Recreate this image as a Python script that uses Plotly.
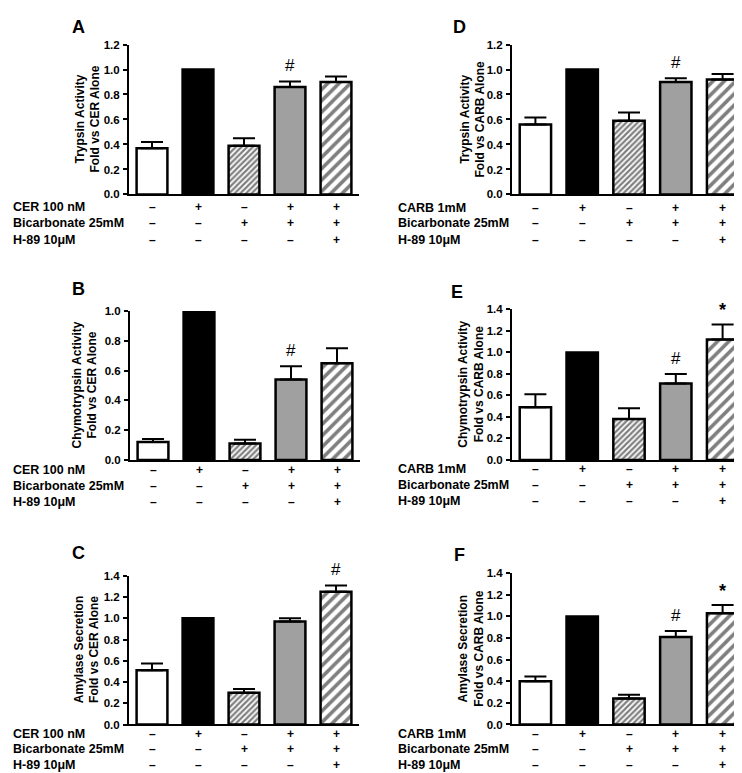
import plotly.graph_objects as go

W, H = 742, 773

# ---------------- data ----------------
panel_letters = ["A", "B", "C", "D", "E", "F"]
ytitles = [
    "Trypsin Activity<br>Fold vs CER Alone",
    "Chymotrypsin Activity<br>Fold vs CER Alone",
    "Amylase Secretion<br>Fold vs CER Alone",
    "Trypsin Activity<br>Fold vs CARB Alone",
    "Chymotrypsin Activity<br>Fold vs CARB Alone",
    "Amylase Secretion<br>Fold vs CARB Alone",
]
means_A = [0.37, 1.00, 0.39, 0.86, 0.90]
errs_A = [0.05, 0.0, 0.06, 0.045, 0.045]
means_B = [0.12, 1.00, 0.11, 0.54, 0.65]
errs_B = [0.02, 0.0, 0.025, 0.09, 0.10]
means_C = [0.51, 1.00, 0.30, 0.97, 1.25]
errs_C = [0.065, 0.0, 0.035, 0.03, 0.06]
means_D = [0.56, 1.00, 0.59, 0.90, 0.92]
errs_D = [0.055, 0.0, 0.065, 0.03, 0.045]
means_E = [0.49, 1.00, 0.38, 0.71, 1.12]
errs_E = [0.12, 0.0, 0.10, 0.09, 0.14]
means_F = [0.40, 1.00, 0.24, 0.81, 1.03]
errs_F = [0.045, 0.0, 0.035, 0.055, 0.075]
yranges = [1.2, 1.0, 1.4, 1.2, 1.4, 1.4]
ytick_step = [0.2, 0.2, 0.2, 0.2, 0.2, 0.2]
# significance marks per bar
marks_A = ["", "", "", "#", ""]
marks_B = ["", "", "", "#", ""]
marks_C = ["", "", "", "", "#"]
marks_D = ["", "", "", "#", ""]
marks_E = ["", "", "", "#", "*"]
marks_F = ["", "", "", "#", "*"]

row_labels_left = ["CER 100 nM", "Bicarbonate 25mM", "H-89 10\u03bcM"]
row_labels_right = ["CARB 1mM", "Bicarbonate 25mM", "H-89 10\u03bcM"]
agonist_row = ["\u2013", "+", "\u2013", "+", "+"]
bicarb_row = ["\u2013", "\u2013", "+", "+", "+"]
h89_row = ["\u2013", "\u2013", "\u2013", "\u2013", "+"]

means = [means_A, means_B, means_C, means_D, means_E, means_F]
errs = [errs_A, errs_B, errs_C, errs_D, errs_E, errs_F]
marks = [marks_A, marks_B, marks_C, marks_D, marks_E, marks_F]

# ---------------- layout geometry (pixels) ----------------
# (x_left, x_right, y_top, y_bottom)
boxes = [
    (121, 351, 31, 183.3),
    (122, 352, 301.7, 453),
    (121, 351, 570.7, 721.7),
    (504, 738, 31, 183.3),
    (504, 738, 300, 453),
    (504, 738, 568, 721.7),
]
letter_pos = [(70, 13), (70, 279), (70, 548), (451, 13), (449, 282), (451, 550)]
title_x = [80, 77, 79, 465, 463, 463]
rows_y = [
    (196, 212.3, 229.3),
    (463, 479, 496),
    (731, 747, 763),
    (196.7, 212.3, 229.3),
    (462, 478, 495),
    (731, 747, 763),
]
label_x = [3, 3, 3, 388, 388, 388]

FONT = "Liberation Sans, Arial, sans-serif"

def px(x):
    return x / W

def py(y):
    return 1 - y / H

fig = go.Figure()
annotations = []

bar_colors = ["white", "black", "white", "#a0a0a0", "white"]
patterns = [
    dict(shape=""),
    dict(shape=""),
    dict(shape="/", size=4, solidity=0.55, fgcolor="black", bgcolor="white"),
    dict(shape=""),
    dict(shape="/", size=8, solidity=0.45, fgcolor="black", bgcolor="white"),
]

for i in range(6):
    xa = "x" if i == 0 else f"x{i+1}"
    ya = "y" if i == 0 else f"y{i+1}"
    xl, xr, yt, yb = boxes[i]
    for j in range(5):
        fig.add_trace(go.Bar(
            x=[j], y=[means[i][j]], xaxis=xa, yaxis=ya, width=0.67,
            marker=dict(color=bar_colors[j], line=dict(color="black", width=2.5),
                        pattern=patterns[j]),
            error_y=dict(type="data", symmetric=False, array=[errs[i][j]],
                         arrayminus=[0], color="black", thickness=2, width=11,
                         visible=errs[i][j] > 0),
            showlegend=False, hoverinfo="skip",
        ))
        if marks[i][j]:
            annotations.append(dict(
                x=j, y=means[i][j] + errs[i][j], xref=xa, yref=ya,
                text=marks[i][j], showarrow=False, xanchor="center",
                yanchor="bottom", yshift=4 if marks[i][j] == "#" else 2,
                font=dict(family=FONT, size=18 if marks[i][j] == "*" else 17,
                          color="black",
                          weight="bold" if marks[i][j] == "*" else "normal"),
            ))
    axkey = "xaxis" if i == 0 else f"xaxis{i+1}"
    aykey = "yaxis" if i == 0 else f"yaxis{i+1}"
    fig.update_layout(**{
        axkey: dict(domain=[px(xl), px(xr)], range=[-0.5, 4.5], anchor=ya,
                    showline=True, linecolor="black", linewidth=2,
                    showticklabels=False, ticks="", showgrid=False, zeroline=False,
                    fixedrange=True),
        aykey: dict(domain=[py(yb), py(yt)], range=[0, yranges[i]], anchor=xa,
                    showline=True, linecolor="black", linewidth=2,
                    ticks="outside", ticklen=4, tickwidth=2, tickcolor="black",
                    dtick=ytick_step[i], tick0=0, tickformat=".1f", ticklabelstandoff=1,
                    showgrid=False, zeroline=False,
                    tickfont=dict(family=FONT, size=11.5, color="black", weight="bold"),
                    fixedrange=True),
    })
    # panel letter
    lx, ly = letter_pos[i]
    annotations.append(dict(x=px(lx), y=py(ly), xref="paper", yref="paper",
                            text=panel_letters[i], showarrow=False,
                            xanchor="center", yanchor="middle",
                            font=dict(family=FONT, size=18, color="black", weight="bold")))
    # y title
    annotations.append(dict(x=px(title_x[i]), y=py((yt + yb) / 2), xref="paper", yref="paper",
                            text=ytitles[i], showarrow=False, textangle=-90,
                            xanchor="center", yanchor="middle",
                            font=dict(family=FONT, size=12, color="black", weight="bold")))
    # treatment table
    labels = row_labels_left if i < 3 else row_labels_right
    table = [agonist_row, bicarb_row, h89_row]
    for r in range(3):
        ry = rows_y[i][r]
        annotations.append(dict(x=px(label_x[i]), y=py(ry), xref="paper", yref="paper",
                                text=labels[r], showarrow=False, xanchor="left",
                                yanchor="middle",
                                font=dict(family=FONT, size=12.5, color="black", weight="bold")))
        for j in range(5):
            annotations.append(dict(x=j, y=py(ry), xref=xa, yref="paper",
                                    text=table[r][j], showarrow=False,
                                    xanchor="center", yanchor="middle",
                                    font=dict(family=FONT, size=12, color="black", weight="bold")))

fig.update_layout(
    width=W, height=H, margin=dict(l=0, r=0, t=0, b=0),
    paper_bgcolor="white", plot_bgcolor="white",
    barmode="overlay", annotations=annotations,
)

fig.write_html("out.html")
